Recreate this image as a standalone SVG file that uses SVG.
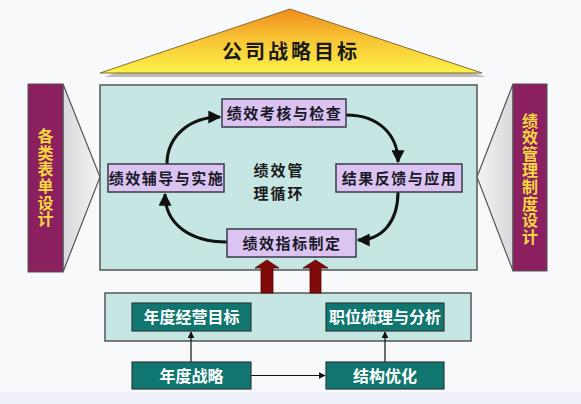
<svg xmlns="http://www.w3.org/2000/svg" width="581" height="404" viewBox="0 0 581 404">
<defs>
<linearGradient id="roof" x1="0" y1="0" x2="0" y2="1">
<stop offset="0" stop-color="#f08a1e"/>
<stop offset="0.45" stop-color="#f7c233"/>
<stop offset="1" stop-color="#fbf24a"/>
</linearGradient>
<linearGradient id="wingL" x1="0" y1="0" x2="1" y2="0">
<stop offset="0" stop-color="#d8d8da"/>
<stop offset="1" stop-color="#f4f4f6"/>
</linearGradient>
<linearGradient id="wingR" x1="1" y1="0" x2="0" y2="0">
<stop offset="0" stop-color="#d8d8da"/>
<stop offset="1" stop-color="#f4f4f6"/>
</linearGradient>
<marker id="bk" viewBox="0 0 10 10" refX="9" refY="5" markerWidth="13" markerHeight="13" markerUnits="userSpaceOnUse" orient="auto">
<path d="M0,0 L10,5 L0,10 z" fill="#111"/>
</marker>
<marker id="thin" viewBox="0 0 10 10" refX="9" refY="5" markerWidth="7" markerHeight="7" markerUnits="userSpaceOnUse" orient="auto">
<path d="M0,0 L10,5 L0,10 z" fill="#111"/>
</marker>
</defs>
<style>
.cn{font-family:"Noto Sans CJK SC","Noto Sans",sans-serif}
.cyc{fill:#dcc4f2;stroke:#3a3a4a;stroke-width:1.5}
.cyt{font-size:15px;font-weight:bold;fill:#1a1a2a;text-anchor:middle;letter-spacing:1.5px}
.tl{fill:#11766f;stroke:#2b3d3d;stroke-width:1.2}
.tlt{font-size:16px;font-weight:bold;fill:#ffffff;text-anchor:middle}
.bar{fill:#8a2060;stroke:#555;stroke-width:1}
.vt{font-size:16px;font-weight:bold;fill:#f6d640;text-anchor:middle;writing-mode:vertical-rl;letter-spacing:0.6px}
.cur{fill:none;stroke:#111;stroke-width:3}
.red{fill:#7e0a0a;stroke:#5a0505;stroke-width:0.8}
.ctr{font-size:15px;font-weight:bold;fill:#1a1a1a;text-anchor:middle;letter-spacing:2px}
</style>
<rect x="0" y="0" width="581" height="404" fill="#f8f9fb"/>
<rect x="0" y="392" width="581" height="12" fill="#eef0fa"/>

<g id="roof">
<polygon points="292,12 104,77 486,77" fill="#8a8a8a" opacity="0.55"/>
<polygon points="290,9 100,73 482,73" fill="url(#roof)" stroke="#8a6a30" stroke-width="1"/>
<text class="cn" x="291" y="59" font-size="20" font-weight="bold" fill="#1a1a1a" text-anchor="middle" letter-spacing="3">公司战略目标</text>
</g>

<g id="left-wing">
<polygon points="63,84 100,177 63,272" fill="url(#wingL)" stroke="#555" stroke-width="1.2"/>
<rect class="bar" x="28" y="84" width="35" height="188"/>
<text class="cn vt" x="45.5" y="178">各类表单设计</text>
</g>

<g id="right-wing">
<polygon points="513,84 477,177 513,271" fill="url(#wingR)" stroke="#555" stroke-width="1.2"/>
<rect class="bar" x="513" y="84" width="34" height="187"/>
<text class="cn vt" x="530" y="179">绩效管理制度设计</text>
</g>

<g id="main-box">
<rect x="100" y="85" width="377" height="185" fill="#c6e6e4" stroke="#555" stroke-width="1.5"/>
<text class="cn ctr" x="279" y="176">绩效管</text>
<text class="cn ctr" x="279" y="198.5">理循环</text>
</g>

<g id="bottom-box">
<rect x="105" y="293" width="366" height="48" fill="#c6e6e4" stroke="#555" stroke-width="1.5"/>
</g>

<g id="connectors">
<path class="cur" d="M167,164 C167,136 190,117 220,117" marker-end="url(#bk)"/>
<path class="cur" d="M346,115 C380,115 398,136 398,162" marker-end="url(#bk)"/>
<path class="cur" d="M398,192 C398,222 382,240 358,240" marker-end="url(#bk)"/>
<path class="cur" d="M227,242 C190,242 165,224 165,194" marker-end="url(#bk)"/>
<path class="red" d="M261,293 L261,268 L255,268 L267,260 L279,268 L273,268 L273,293 z"/>
<path class="red" d="M310,293 L310,268 L303,268 L315.5,260 L328,268 L321,268 L321,293 z"/>
<line x1="191" y1="362" x2="191" y2="332" stroke="#111" stroke-width="1.2" marker-end="url(#thin)"/>
<line x1="385" y1="362" x2="385" y2="332" stroke="#111" stroke-width="1.2" marker-end="url(#thin)"/>
<line x1="251" y1="375.5" x2="325" y2="375.5" stroke="#111" stroke-width="1.2" marker-end="url(#thin)"/>
</g>

<g id="n-check">
<rect class="cyc" x="222" y="99" width="124" height="28"/>
<text class="cn cyt" x="284.5" y="118.5">绩效考核与检查</text>
</g>
<g id="n-coach">
<rect class="cyc" x="108" y="164" width="116" height="28"/>
<text class="cn cyt" x="166.5" y="183.5">绩效辅导与实施</text>
</g>
<g id="n-feedback">
<rect class="cyc" x="336" y="164" width="126" height="28"/>
<text class="cn cyt" x="399.5" y="183.5">结果反馈与应用</text>
</g>
<g id="n-index">
<rect class="cyc" x="227" y="229" width="129" height="28"/>
<text class="cn cyt" x="292" y="248.5">绩效指标制定</text>
</g>

<g id="n-annual-goal">
<rect class="tl" x="132" y="303" width="119" height="28"/>
<text class="cn tlt" x="191.5" y="323">年度经营目标</text>
</g>
<g id="n-position">
<rect class="tl" x="326" y="303" width="118" height="28"/>
<text class="cn tlt" x="385" y="323">职位梳理与分析</text>
</g>
<g id="n-strategy">
<rect class="tl" x="132" y="362" width="119" height="27"/>
<text class="cn tlt" x="191.5" y="381.5">年度战略</text>
</g>
<g id="n-structure">
<rect class="tl" x="326" y="362" width="118" height="27"/>
<text class="cn tlt" x="385" y="381.5">结构优化</text>
</g>
</svg>
